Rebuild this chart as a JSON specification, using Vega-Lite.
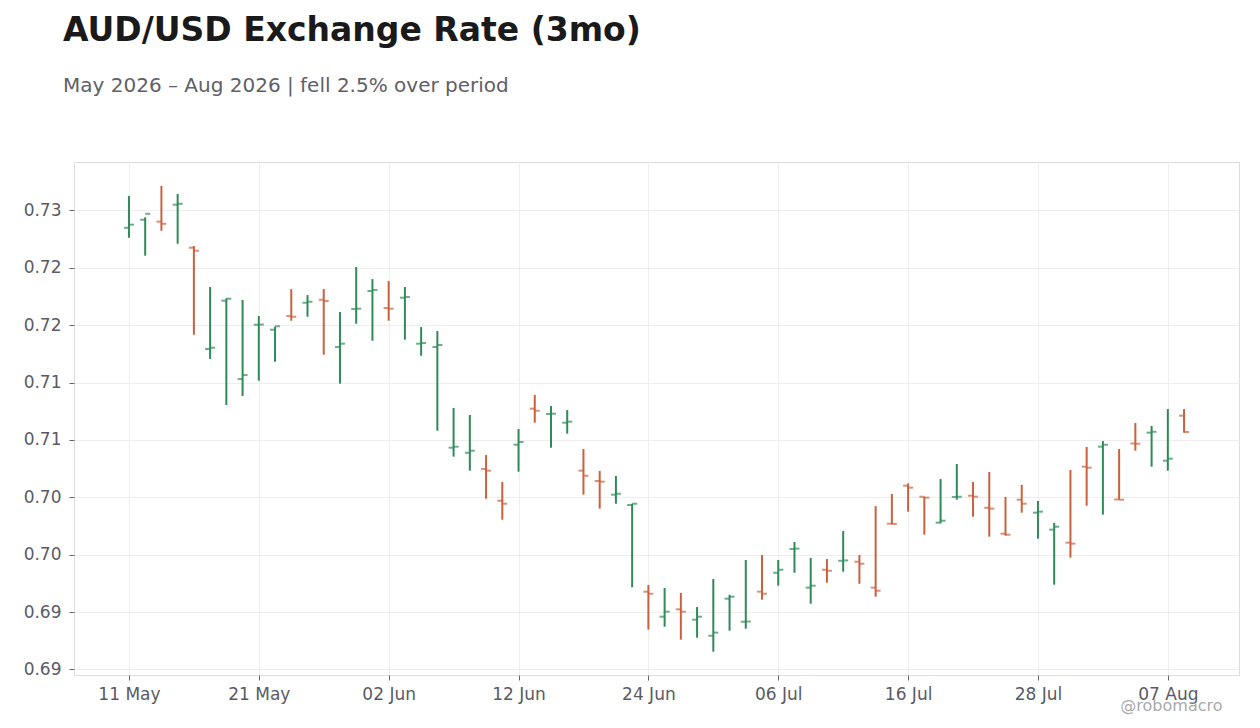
{
  "$schema": "https://vega.github.io/schema/vega-lite/v6.json",
  "width": 1165,
  "height": 513,
  "autosize": {"type": "none"},
  "padding": {"left": 74, "top": 162, "right": 21, "bottom": 53},
  "background": "white",
  "title": {
    "text": "AUD/USD Exchange Rate (3mo)",
    "subtitle": "May 2026 – Aug 2026 | fell 2.5% over period",
    "anchor": "start",
    "frame": "group",
    "dx": -11,
    "offset": 66,
    "fontSize": 33,
    "fontWeight": "bold",
    "color": "#1a1a1a",
    "subtitleFontSize": 20,
    "subtitleColor": "#5f6068",
    "subtitlePadding": 28
  },
  "data": {
    "values": [
      {"i": 0, "date": "2026-05-11", "open": 0.72848, "high": 0.73125, "low": 0.72761, "close": 0.72875},
      {"i": 1, "date": "2026-05-12", "open": 0.72918, "high": 0.72939, "low": 0.72605, "close": 0.72970},
      {"i": 2, "date": "2026-05-13", "open": 0.72901, "high": 0.73212, "low": 0.72822, "close": 0.72883},
      {"i": 3, "date": "2026-05-14", "open": 0.73049, "high": 0.73142, "low": 0.72709, "close": 0.73057},
      {"i": 4, "date": "2026-05-15", "open": 0.72674, "high": 0.72689, "low": 0.71916, "close": 0.72648},
      {"i": 5, "date": "2026-05-18", "open": 0.71792, "high": 0.72332, "low": 0.71705, "close": 0.71803},
      {"i": 6, "date": "2026-05-19", "open": 0.72213, "high": 0.72233, "low": 0.71304, "close": 0.72230},
      {"i": 7, "date": "2026-05-20", "open": 0.71530, "high": 0.72219, "low": 0.71382, "close": 0.71565},
      {"i": 8, "date": "2026-05-21", "open": 0.72003, "high": 0.72079, "low": 0.71516, "close": 0.72005},
      {"i": 9, "date": "2026-05-22", "open": 0.71960, "high": 0.71986, "low": 0.71681, "close": 0.71990},
      {"i": 10, "date": "2026-05-25", "open": 0.72079, "high": 0.72314, "low": 0.72038, "close": 0.72073},
      {"i": 11, "date": "2026-05-26", "open": 0.72195, "high": 0.72262, "low": 0.72073, "close": 0.72204},
      {"i": 12, "date": "2026-05-27", "open": 0.72221, "high": 0.72314, "low": 0.71742, "close": 0.72210},
      {"i": 13, "date": "2026-05-28", "open": 0.71809, "high": 0.72114, "low": 0.71490, "close": 0.71838},
      {"i": 14, "date": "2026-05-29", "open": 0.72140, "high": 0.72506, "low": 0.72012, "close": 0.72143},
      {"i": 15, "date": "2026-06-01", "open": 0.72297, "high": 0.72401, "low": 0.71864, "close": 0.72306},
      {"i": 16, "date": "2026-06-02", "open": 0.72149, "high": 0.72384, "low": 0.72038, "close": 0.72143},
      {"i": 17, "date": "2026-06-03", "open": 0.72239, "high": 0.72332, "low": 0.71873, "close": 0.72245},
      {"i": 18, "date": "2026-06-04", "open": 0.71838, "high": 0.71983, "low": 0.71733, "close": 0.71844},
      {"i": 19, "date": "2026-06-05", "open": 0.71809, "high": 0.71949, "low": 0.71080, "close": 0.71827},
      {"i": 20, "date": "2026-06-08", "open": 0.70932, "high": 0.71278, "low": 0.70854, "close": 0.70941},
      {"i": 21, "date": "2026-06-09", "open": 0.70888, "high": 0.71217, "low": 0.70732, "close": 0.70906},
      {"i": 22, "date": "2026-06-10", "open": 0.70747, "high": 0.70868, "low": 0.70488, "close": 0.70732},
      {"i": 23, "date": "2026-06-11", "open": 0.70470, "high": 0.70633, "low": 0.70305, "close": 0.70444},
      {"i": 24, "date": "2026-06-12", "open": 0.70958, "high": 0.71095, "low": 0.70723, "close": 0.70982},
      {"i": 25, "date": "2026-06-15", "open": 0.71272, "high": 0.71391, "low": 0.71150, "close": 0.71254},
      {"i": 26, "date": "2026-06-16", "open": 0.71226, "high": 0.71295, "low": 0.70932, "close": 0.71228},
      {"i": 27, "date": "2026-06-17", "open": 0.71150, "high": 0.71260, "low": 0.71054, "close": 0.71159},
      {"i": 28, "date": "2026-06-18", "open": 0.70732, "high": 0.70921, "low": 0.70523, "close": 0.70688},
      {"i": 29, "date": "2026-06-19", "open": 0.70642, "high": 0.70730, "low": 0.70401, "close": 0.70636},
      {"i": 30, "date": "2026-06-22", "open": 0.70523, "high": 0.70686, "low": 0.70444, "close": 0.70531},
      {"i": 31, "date": "2026-06-23", "open": 0.70433, "high": 0.70444, "low": 0.69716, "close": 0.70444},
      {"i": 32, "date": "2026-06-24", "open": 0.69678, "high": 0.69736, "low": 0.69347, "close": 0.69660},
      {"i": 33, "date": "2026-06-25", "open": 0.69460, "high": 0.69710, "low": 0.69373, "close": 0.69504},
      {"i": 34, "date": "2026-06-26", "open": 0.69524, "high": 0.69667, "low": 0.69260, "close": 0.69504},
      {"i": 35, "date": "2026-06-29", "open": 0.69434, "high": 0.69544, "low": 0.69277, "close": 0.69460},
      {"i": 36, "date": "2026-06-30", "open": 0.69294, "high": 0.69788, "low": 0.69155, "close": 0.69321},
      {"i": 37, "date": "2026-07-01", "open": 0.69617, "high": 0.69650, "low": 0.69338, "close": 0.69634},
      {"i": 38, "date": "2026-07-02", "open": 0.69416, "high": 0.69954, "low": 0.69355, "close": 0.69418},
      {"i": 39, "date": "2026-07-03", "open": 0.69678, "high": 0.69997, "low": 0.69608, "close": 0.69660},
      {"i": 40, "date": "2026-07-06", "open": 0.69843, "high": 0.69954, "low": 0.69730, "close": 0.69869},
      {"i": 41, "date": "2026-07-07", "open": 0.70050, "high": 0.70111, "low": 0.69843, "close": 0.70053},
      {"i": 42, "date": "2026-07-08", "open": 0.69713, "high": 0.69971, "low": 0.69573, "close": 0.69730},
      {"i": 43, "date": "2026-07-09", "open": 0.69869, "high": 0.69962, "low": 0.69756, "close": 0.69860},
      {"i": 44, "date": "2026-07-10", "open": 0.69947, "high": 0.70206, "low": 0.69852, "close": 0.69950},
      {"i": 45, "date": "2026-07-13", "open": 0.69939, "high": 0.69997, "low": 0.69747, "close": 0.69921},
      {"i": 46, "date": "2026-07-14", "open": 0.69713, "high": 0.70423, "low": 0.69634, "close": 0.69686},
      {"i": 47, "date": "2026-07-15", "open": 0.70270, "high": 0.70529, "low": 0.70266, "close": 0.70268},
      {"i": 48, "date": "2026-07-16", "open": 0.70601, "high": 0.70621, "low": 0.70375, "close": 0.70584},
      {"i": 49, "date": "2026-07-17", "open": 0.70505, "high": 0.70505, "low": 0.70174, "close": 0.70497},
      {"i": 50, "date": "2026-07-20", "open": 0.70279, "high": 0.70659, "low": 0.70274, "close": 0.70296},
      {"i": 51, "date": "2026-07-21", "open": 0.70503, "high": 0.70790, "low": 0.70479, "close": 0.70505},
      {"i": 52, "date": "2026-07-22", "open": 0.70514, "high": 0.70633, "low": 0.70331, "close": 0.70505},
      {"i": 53, "date": "2026-07-23", "open": 0.70409, "high": 0.70720, "low": 0.70157, "close": 0.70401},
      {"i": 54, "date": "2026-07-24", "open": 0.70183, "high": 0.70503, "low": 0.70166, "close": 0.70174},
      {"i": 55, "date": "2026-07-27", "open": 0.70479, "high": 0.70608, "low": 0.70366, "close": 0.70444},
      {"i": 56, "date": "2026-07-28", "open": 0.70366, "high": 0.70468, "low": 0.70139, "close": 0.70375},
      {"i": 57, "date": "2026-07-29", "open": 0.70218, "high": 0.70277, "low": 0.69739, "close": 0.70244},
      {"i": 58, "date": "2026-07-30", "open": 0.70105, "high": 0.70738, "low": 0.69974, "close": 0.70096},
      {"i": 59, "date": "2026-07-31", "open": 0.70767, "high": 0.70938, "low": 0.70427, "close": 0.70758},
      {"i": 60, "date": "2026-08-03", "open": 0.70941, "high": 0.70990, "low": 0.70349, "close": 0.70958},
      {"i": 61, "date": "2026-08-04", "open": 0.70481, "high": 0.70921, "low": 0.70479, "close": 0.70479},
      {"i": 62, "date": "2026-08-05", "open": 0.70969, "high": 0.71147, "low": 0.70906, "close": 0.70967},
      {"i": 63, "date": "2026-08-06", "open": 0.71063, "high": 0.71121, "low": 0.70767, "close": 0.71071},
      {"i": 64, "date": "2026-08-07", "open": 0.70819, "high": 0.71269, "low": 0.70732, "close": 0.70836},
      {"i": 65, "date": "2026-08-10", "open": 0.71211, "high": 0.71269, "low": 0.71063, "close": 0.71069}
    ]
  },
  "encoding": {
    "x": {
      "field": "i",
      "type": "quantitative",
      "scale": {"domain": [-3.385, 68.385], "nice": false, "zero": false},
      "axis": {
        "values": [0, 8, 16, 24, 32, 40, 48, 56, 64],
        "labelExpr": "['11 May', '21 May', '02 Jun', '12 Jun', '24 Jun', '06 Jul', '16 Jul', '28 Jul', '07 Aug'][round(datum.value / 8)]",
        "labelFlush": false,
        "labelOverlap": false,
        "title": "@robomacro",
        "titleX": 1148,
        "titleY": 35,
        "titleAlign": "right",
        "titleBaseline": "alphabetic",
        "titleFontSize": 16,
        "titleFontWeight": "normal",
        "titleColor": "#aaaaaa",
        "labelPadding": 6
      }
    },
    "color": {
      "condition": {"test": "datum.close > datum.open", "value": "#2e8b57"},
      "value": "#c9613d"
    },
    "tooltip": [
      {"field": "date", "type": "nominal", "title": "Date"},
      {"field": "open", "type": "quantitative", "format": ".4f"},
      {"field": "high", "type": "quantitative", "format": ".4f"},
      {"field": "low", "type": "quantitative", "format": ".4f"},
      {"field": "close", "type": "quantitative", "format": ".4f"}
    ]
  },
  "layer": [
    {
      "mark": {"type": "rule", "strokeWidth": 2},
      "encoding": {
        "y": {
          "field": "low",
          "type": "quantitative",
          "scale": {"domain": [0.68952, 0.73421], "nice": false, "zero": false},
          "axis": {
            "values": [0.69, 0.695, 0.7, 0.705, 0.71, 0.715, 0.72, 0.725, 0.73],
            "format": ".2f",
            "title": null,
            "labelPadding": 8
          }
        },
        "y2": {"field": "high"}
      }
    },
    {
      "mark": {"type": "tick", "orient": "horizontal", "size": 5, "thickness": 2, "xOffset": -2.5},
      "encoding": {"y": {"field": "open", "type": "quantitative"}}
    },
    {
      "mark": {"type": "tick", "orient": "horizontal", "size": 5, "thickness": 2, "xOffset": 2.5},
      "encoding": {"y": {"field": "close", "type": "quantitative"}}
    }
  ],
  "config": {
    "font": "DejaVu Sans",
    "view": {"stroke": "#dddddd", "strokeWidth": 1},
    "axis": {
      "domain": false,
      "grid": true,
      "gridColor": "#eeeeee",
      "gridWidth": 1,
      "tickColor": "#666666",
      "tickSize": 5,
      "labelFontSize": 17,
      "labelColor": "#5a5a66",
      "labelFont": "DejaVu Sans"
    }
  }
}
